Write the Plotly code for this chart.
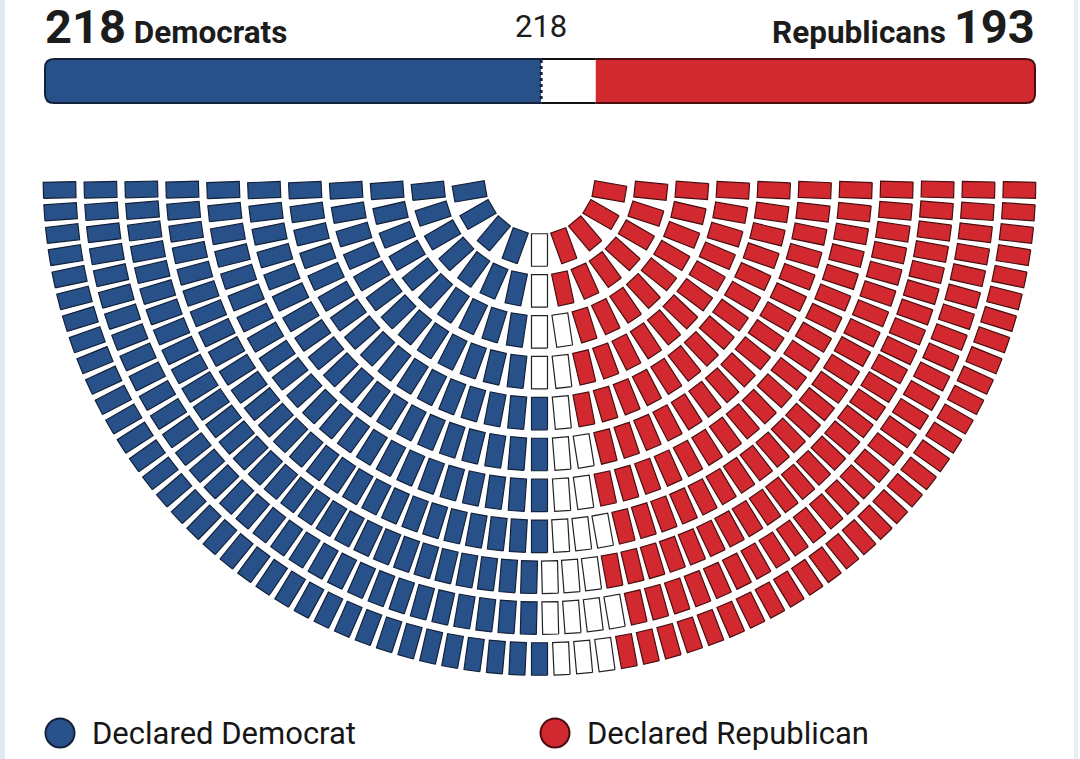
import numpy as np
import plotly.graph_objects as go

# ---------------- data ----------------
parties = ["Declared Democrat", "Undeclared", "Declared Republican"]
seats = [218, 24, 193]
header_dem = "Democrats"
header_rep = "Republicans"
majority = 218
ring_seats = [9, 15, 21, 27, 33, 39, 45, 53, 60, 64, 69]
legend_parties = ["Declared Democrat", "Declared Republican"]

# ---------------- style ----------------
fills = ["#28518a", "#ffffff", "#d1292f"]
edges = ["#14213a", "#222222", "#4a0e10"]
W, H = 1080, 759
cx, cy = 539.5, 179.0
r_in, r_out = 71.0, 480.0
seat_len, seat_wid = 32.5, 16.0

# ---------------- hemicycle layout ----------------
radii = np.linspace(r_in, r_out, len(ring_seats))
pos = []
for n, r in zip(ring_seats, radii):
    for k in range(n):
        th = (k + 0.5) * np.pi / n
        pos.append((round(th, 9), -r, th, r))
pos.sort(key=lambda p: (p[0], p[1]))

owner = []
for i, s in enumerate(seats):
    owner += [i] * s

fig = go.Figure()
for pi in range(len(parties)):
    xs, ys = [], []
    for (key, nr, th, r), o in zip(pos, owner):
        if o != pi:
            continue
        ux, uy = -np.cos(th), np.sin(th)
        tx, ty = np.sin(th), np.cos(th)
        c0, c1 = cx + r * ux, cy + r * uy
        for a, b in [(1, 1), (1, -1), (-1, -1), (-1, 1), (1, 1)]:
            xs.append(c0 + a * ux * seat_len / 2 + b * tx * seat_wid / 2)
            ys.append(c1 + a * uy * seat_len / 2 + b * ty * seat_wid / 2)
        xs.append(None)
        ys.append(None)
    fig.add_trace(go.Scatter(x=xs, y=ys, mode="lines", fill="toself",
                             fillcolor=fills[pi],
                             line=dict(color=edges[pi], width=1.2),
                             hoverinfo="skip", showlegend=False))

# ---------------- top bar ----------------
total = sum(seats)
bx0, bx1, byt, byb, rad = 45.0, 1035.0, 59.0, 103.0, 9.0
xd = bx0 + (bx1 - bx0) * seats[0] / total
xw = xd + (bx1 - bx0) * seats[1] / total
xm = bx0 + (bx1 - bx0) * majority / total

shapes = []
dem_path = (f"M {bx0+rad},{byt} L {xd},{byt} L {xd},{byb} L {bx0+rad},{byb} "
            f"Q {bx0},{byb} {bx0},{byb-rad} L {bx0},{byt+rad} Q {bx0},{byt} {bx0+rad},{byt} Z")
rep_path = (f"M {xw},{byt} L {bx1-rad},{byt} Q {bx1},{byt} {bx1},{byt+rad} "
            f"L {bx1},{byb-rad} Q {bx1},{byb} {bx1-rad},{byb} L {xw},{byb} Z")
shapes.append(dict(type="path", path=dem_path, fillcolor=fills[0], line=dict(width=0), layer="below"))
shapes.append(dict(type="rect", x0=xd, x1=xw, y0=byt, y1=byb, fillcolor=fills[1], line=dict(width=0), layer="below"))
shapes.append(dict(type="path", path=rep_path, fillcolor=fills[2], line=dict(width=0), layer="below"))
dem_out = (f"M {xd},{byt} L {bx0+rad},{byt} Q {bx0},{byt} {bx0},{byt+rad} "
           f"L {bx0},{byb-rad} Q {bx0},{byb} {bx0+rad},{byb} L {xd},{byb}")
wht_out = f"M {xd},{byt} L {xw},{byt} M {xd},{byb} L {xw},{byb}"
rep_out = (f"M {xw},{byt} L {bx1-rad},{byt} Q {bx1},{byt} {bx1},{byt+rad} "
           f"L {bx1},{byb-rad} Q {bx1},{byb} {bx1-rad},{byb} L {xw},{byb}")
for p, c in [(dem_out, edges[0]), (wht_out, "#111111"), (rep_out, edges[2])]:
    shapes.append(dict(type="path", path=p, fillcolor="rgba(0,0,0,0)", line=dict(color=c, width=2)))
shapes.append(dict(type="line", x0=xm, x1=xm, y0=byt + 1, y1=byb - 1,
                   line=dict(color=edges[0], width=3, dash="dot")))

# faint frame strips at the page edges
shapes.append(dict(type="rect", x0=0, x1=5, y0=0, y1=H, fillcolor="#e2e9f2", line=dict(width=0), layer="below"))
shapes.append(dict(type="rect", x0=1074, x1=1078, y0=0, y1=H, fillcolor="#e8eef5", line=dict(width=0), layer="below"))

# ---------------- legend ----------------
leg_x = [60, 555]
leg_y = 733
for i, name in enumerate(legend_parties):
    pi = parties.index(name)
    fig.add_trace(go.Scatter(x=[leg_x[i]], y=[leg_y], mode="markers",
                             marker=dict(size=29, color=fills[pi], line=dict(color=edges[pi], width=2)),
                             hoverinfo="skip", showlegend=False))

ann = []
for i, name in enumerate(legend_parties):
    ann.append(dict(x=leg_x[i] + 30, y=leg_y, text=name, xanchor="left", yanchor="middle",
                    showarrow=False, font=dict(family="Roboto", size=31, color="#161616")))

ann.append(dict(x=bx0 - 2, y=26, xanchor="left", yanchor="middle", showarrow=False,
                text=f"<b><span style='font-size:47px'>{seats[0]}</span> {header_dem}</b>",
                font=dict(family="Roboto", size=31.5, color="#1c1c1c")))
ann.append(dict(x=bx1 + 2, y=26, xanchor="right", yanchor="middle", showarrow=False,
                text=f"<b>{header_rep} <span style='font-size:47px'>{seats[2]}</span></b>",
                font=dict(family="Roboto", size=31.5, color="#1c1c1c")))
ann.append(dict(x=xm, y=26, xanchor="center", yanchor="middle", showarrow=False,
                text=str(majority), font=dict(family="Roboto", size=31, color="#1c1c1c")))

fig.update_layout(
    width=W, height=H, margin=dict(l=0, r=0, t=0, b=0),
    paper_bgcolor="white", plot_bgcolor="white",
    xaxis=dict(range=[0, W], visible=False, fixedrange=True),
    yaxis=dict(range=[H, 0], visible=False, fixedrange=True),
    shapes=shapes, annotations=ann, showlegend=False,
)
fig.write_html("out.html")
